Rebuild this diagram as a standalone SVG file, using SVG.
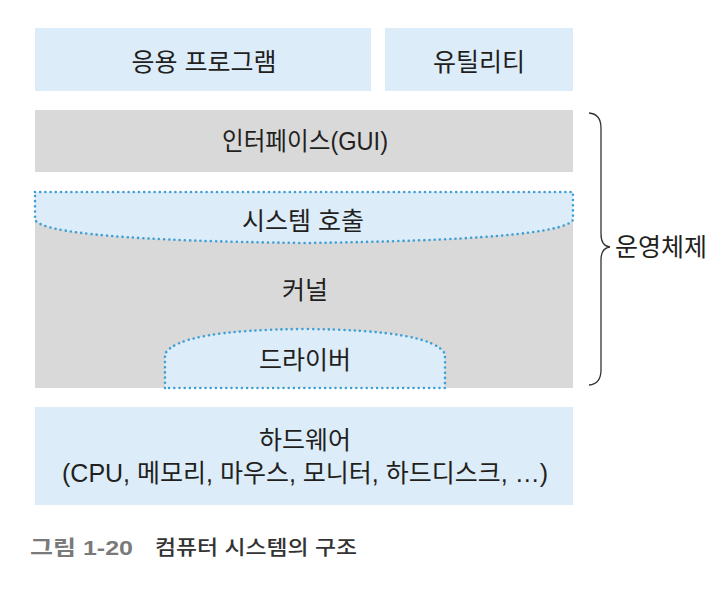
<svg xmlns="http://www.w3.org/2000/svg" width="722" height="600" viewBox="0 0 722 600">
<style>
.blue{fill:#dcecf8}
.gray{fill:#d9d9d9}
.dot{fill:#dcecf8;stroke:#3d9fd6;stroke-width:2.6;stroke-linecap:round;stroke-dasharray:0 5.2}
text{font-family:"Liberation Sans","Noto Sans CJK KR",sans-serif;font-size:25px;fill:#231f20;text-anchor:middle}
.cap{font-size:20px;text-anchor:start}
</style>
<rect width="722" height="600" fill="#fff"/>
<g id="kernel">
<rect class="gray" x="35" y="192" width="538" height="196"/>
<text x="305" y="299">커널</text>
</g>
<g id="app"><rect class="blue" x="35" y="28" width="336" height="63"/><text x="204" y="71">응용 프로그램</text></g>
<g id="util"><rect class="blue" x="385" y="28" width="188" height="63"/><text x="479" y="71">유틸리티</text></g>
<g id="gui"><rect class="gray" x="35" y="110" width="538" height="62"/><text x="305" y="150" textLength="166" lengthAdjust="spacingAndGlyphs">인터페이스(GUI)</text></g>
<g id="syscall">
<path class="dot" d="M35 192 H573 V220 Q560 240 304 243 Q48 240 35 220 Z"/>
<text x="303" y="230">시스템 호출</text>
</g>
<g id="driver">
<path class="dot" d="M165 388 V354 Q178 330 305 329 Q432 330 445 354 V388 Z"/>
<text x="305" y="369">드라이버</text>
</g>
<g id="hardware">
<rect class="blue" x="35" y="407" width="538" height="98"/>
<text x="305" y="449">하드웨어</text>
<text x="305" y="482" textLength="486" lengthAdjust="spacingAndGlyphs">(CPU, 메모리, 마우스, 모니터, 하드디스크, …)</text>
</g>
<g id="connectors">
<path d="M589 113 Q601 114 601 128 V234 Q601 246 610 247 Q601 248 601 260 V370 Q601 384 589 385" fill="none" stroke="#333" stroke-width="1.3"/>
</g>
<g id="os"><text x="661" y="256" textLength="92" lengthAdjust="spacingAndGlyphs">운영체제</text></g>
<g id="caption">
<text class="cap" x="30" y="555" textLength="103" lengthAdjust="spacingAndGlyphs" style="fill:#7a7a7a;font-weight:bold">그림 1-20</text>
<text class="cap" x="155" y="555" textLength="202" lengthAdjust="spacingAndGlyphs" style="fill:#333;font-weight:500">컴퓨터 시스템의 구조</text>
</g>
</svg>
